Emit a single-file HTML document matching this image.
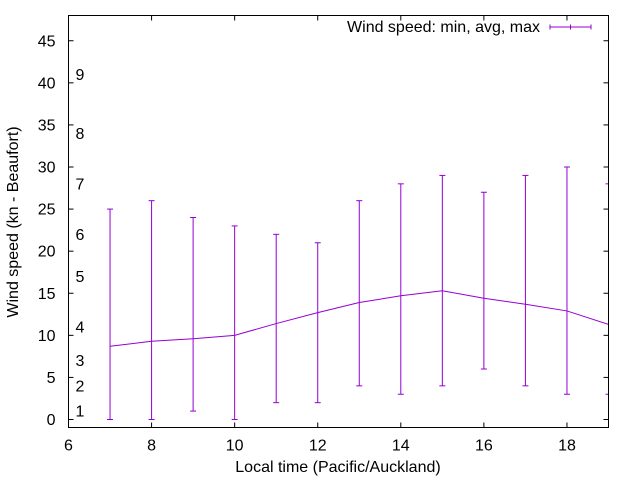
<!DOCTYPE html>
<html><head><meta charset="utf-8"><style>
body{margin:0;background:#fff}
svg{display:block;font-family:"Liberation Sans",sans-serif}
</style></head><body>
<svg id="chart" width="640" height="480" viewBox="0 0 640 480" xmlns="http://www.w3.org/2000/svg">
<defs><clipPath id="pc"><rect x="68.5" y="15.5" width="540" height="412"/></clipPath></defs>
<rect width="640" height="480" fill="#fff"/>
<g id="grid"></g>
<text transform="translate(18,222) rotate(-90)" text-anchor="middle" font-size="16" fill="#000">Wind speed (kn - Beaufort)</text>
<text x="338" y="472" text-anchor="middle" font-size="16" fill="#000">Local time (Pacific/Auckland)</text>
<g>
<text x="540" y="32" text-anchor="end" font-size="16" fill="#000">Wind speed: min, avg, max</text>
<line x1="550" y1="27" x2="591" y2="27" stroke="#9400d3" stroke-width="1"/>
<line x1="550" y1="24.5" x2="550" y2="29.5" stroke="#9400d3"/>
<line x1="570.5" y1="24.5" x2="570.5" y2="29.5" stroke="#9400d3"/>
<line x1="591" y1="24.5" x2="591" y2="29.5" stroke="#9400d3"/>
</g>
<g id="series" clip-path="url(#pc)"></g>
<rect x="68.5" y="15.5" width="540" height="412" fill="none" stroke="#000" stroke-width="1"/>
</svg>
<script>
const hours = [7,8,9,10,11,12,13,14,15,16,17,18,19];
const minSpeed = [0,0,1,0,2,2,4,3,4,6,4,3,3];
const avgSpeed = [8.7,9.3,9.6,10.0,11.4,12.7,13.9,14.7,15.3,14.4,13.7,12.9,11.3];
const maxSpeed = [25,26,24,23,22,21,26,28,29,27,29,30,28];
const xTicks = [6,8,10,12,14,16,18];
const yTicks = [0,5,10,15,20,25,30,35,40,45];
const beaufortValues = [1,4,7,11,17,22,28,34,41];
const beaufortLabels = ["1","2","3","4","5","6","7","8","9"];

const L=68.5,R=608.5,T=15.5,B=427.5;
const xMin=6,xMax=19,yMin=-0.95,yMax=48;
const X=v=>L+(v-xMin)/(xMax-xMin)*(R-L);
const Y=v=>B-(v-yMin)/(yMax-yMin)*(B-T);
const NS="http://www.w3.org/2000/svg";
function mk(tag,attrs,parent){const e=document.createElementNS(NS,tag);for(const k in attrs)e.setAttribute(k,attrs[k]);parent.appendChild(e);return e;}
const grid=document.getElementById('grid');
const series=document.getElementById('series');

xTicks.forEach(t=>{
  const x=X(t);
  let l=mk('line',{x1:x,y1:B,x2:x,y2:B-5,stroke:'#000'},grid);
  
  
  let l2=mk('line',{x1:x,y1:T,x2:x,y2:T+5,stroke:'#000'},grid);
  
  
  let tx=mk('text',{x:x,y:B+23,'text-anchor':'middle','font-size':'16',fill:'#000'},grid);
  tx.textContent=t;
  
  
});
yTicks.forEach(t=>{
  const y=Y(t);
  let l=mk('line',{x1:L,y1:y,x2:L+5,y2:y,stroke:'#000'},grid);
  
  
  let l2=mk('line',{x1:R,y1:y,x2:R-5,y2:y,stroke:'#000'},grid);
  
  
  let tx=mk('text',{x:L-13,y:y+5.5,'text-anchor':'end','font-size':'16',fill:'#000'},grid);
  tx.textContent=t;
  
  
});
beaufortValues.forEach((v,i)=>{
  let tx=mk('text',{x:75.5,y:Y(v)+5.5,'font-size':'16',fill:'#000'},grid);
  tx.textContent=beaufortLabels[i];
  
  
});
const C='#9400d3';
hours.forEach((h,i)=>{
  const x=X(h);
  const g=mk('g',{},series);
  
  
  mk('line',{x1:x,y1:Y(minSpeed[i]),x2:x,y2:Y(maxSpeed[i]),stroke:C},g);
  mk('line',{x1:x-3,y1:Y(minSpeed[i]),x2:x+3,y2:Y(minSpeed[i]),stroke:C},g);
  mk('line',{x1:x-3,y1:Y(maxSpeed[i]),x2:x+3,y2:Y(maxSpeed[i]),stroke:C},g);
});
const p=mk('polyline',{points:hours.map((h,i)=>X(h)+','+Y(avgSpeed[i])).join(' '),fill:'none',stroke:C,'stroke-width':1},series);


</script>
</body></html>
